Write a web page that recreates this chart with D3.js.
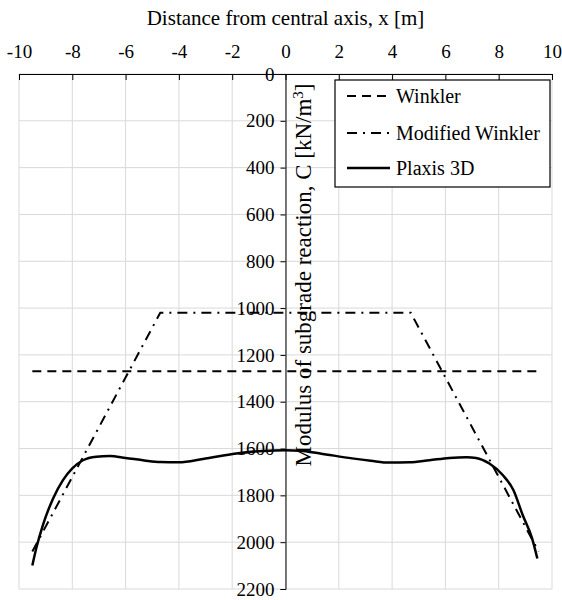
<!DOCTYPE html>
<html>
<head>
<meta charset="utf-8">
<script src="https://cdn.jsdelivr.net/npm/d3@7/dist/d3.min.js"></script>
<style>
  html, body { margin: 0; padding: 0; background: #fff; }
  svg { display: block; }
  svg text { font-family: "Liberation Serif", "Times New Roman", serif !important; fill: #000; }
</style>
</head>
<body>
<svg id="chart" width="562" height="600"></svg>
<script>
// Distance from central axis (m) and tick values
const xTicks = [-10, -8, -6, -4, -2, 0, 2, 4, 6, 8, 10];
const yTicks = [0, 200, 400, 600, 800, 1000, 1200, 1400, 1600, 1800, 2000, 2200];

// Winkler: constant modulus across the width
const winklerX = [-9.5, 9.5];
const winklerC = [1270, 1270];

// Modified Winkler: plateau in the middle, rising toward the edges
const modWinklerX = [-9.5, -4.7, 4.7, 9.5];
const modWinklerC = [2040, 1020, 1020, 2040];

// Plaxis 3D result
const plaxisX = [-9.5, -9.35, -9.1, -8.72, -8.35, -8.0, -7.6, -7.1, -6.6, -6.0, -5.3, -4.7, -4.0, -3.1, -1.85, -0.85, 0, 0.55, 1.3, 2.5, 3.2, 3.9, 4.65, 5.4, 6.15, 6.8, 7.15, 7.65, 8.15, 8.55, 8.9, 9.25, 9.45];
const plaxisC = [2100, 2025, 1926, 1813, 1735, 1685, 1650, 1635, 1632, 1640, 1651, 1658, 1659, 1645, 1621, 1610, 1607, 1609, 1621, 1642, 1652, 1660, 1659, 1650, 1640, 1637, 1640, 1664, 1713, 1777, 1884, 1983, 2070];

const legendLabels = ["Winkler", "Modified Winkler", "Plaxis 3D"];

const svg = d3.select("#chart");
const plotLeft = 19, plotRight = 552, plotTop = 74, plotBottom = 589;

const x = d3.scaleLinear().domain([-10, 10]).range([plotLeft, plotRight]);
const y = d3.scaleLinear().domain([0, 2200]).range([plotTop, plotBottom]);

// Gridlines
const grid = svg.append("g").attr("stroke", "#d9d9d9").attr("stroke-width", 1);
grid.selectAll("line.v").data(xTicks).join("line").attr("class", "v")
  .attr("x1", d => x(d)).attr("x2", d => x(d))
  .attr("y1", plotTop).attr("y2", plotBottom);
grid.selectAll("line.h").data(yTicks).join("line").attr("class", "h")
  .attr("x1", plotLeft).attr("x2", plotRight)
  .attr("y1", d => y(d)).attr("y2", d => y(d));

// Top x axis
const xAxis = svg.append("g")
  .attr("transform", `translate(0,${plotTop})`)
  .call(d3.axisTop(x).tickValues(xTicks).tickSizeInner(-6).tickSizeOuter(0).tickPadding(16)
    .tickFormat(d => d < 0 ? "-" + Math.abs(d) : d));
xAxis.select(".domain").attr("stroke", "#000");
xAxis.selectAll(".tick line").attr("stroke", "#000");
xAxis.selectAll(".tick text").attr("font-size", 19);

// Vertical axis at x = 0
const yAxis = svg.append("g")
  .attr("transform", `translate(${x(0)},0)`)
  .call(d3.axisLeft(y).tickValues(yTicks).tickSize(5).tickPadding(6).tickFormat(d3.format("d")));
yAxis.select(".domain").attr("stroke", "#000");
yAxis.selectAll(".tick line").attr("stroke", "#000");
yAxis.selectAll(".tick text").attr("font-size", 19);

// Series
const line = d3.line().x(d => x(d[0])).y(d => y(d[1]));
const smooth = d3.line().x(d => x(d[0])).y(d => y(d[1])).curve(d3.curveMonotoneX);

svg.append("path")
  .datum(d3.zip(winklerX, winklerC))
  .attr("d", line).attr("fill", "none").attr("stroke", "#000")
  .attr("stroke-width", 2).attr("stroke-dasharray", "9,6");

svg.append("path")
  .datum(d3.zip(modWinklerX, modWinklerC))
  .attr("d", line).attr("fill", "none").attr("stroke", "#000")
  .attr("stroke-width", 2).attr("stroke-dasharray", "10,6,2,6");

svg.append("path")
  .datum(d3.zip(plaxisX, plaxisC))
  .attr("d", smooth).attr("fill", "none").attr("stroke", "#000")
  .attr("stroke-width", 2.5);

// Axis titles
svg.append("text")
  .attr("x", x(0)).attr("y", 25)
  .attr("text-anchor", "middle").attr("font-size", 21)
  .text("Distance from central axis, x [m]");

const yTitle = svg.append("text")
  .attr("transform", `translate(311,275) rotate(-90)`)
  .attr("text-anchor", "middle").attr("font-size", 23);
yTitle.append("tspan").text("Modulus of subgrade  reaction,  C [kN/m");
yTitle.append("tspan").attr("font-size", 15).attr("dy", -8).text("3");
yTitle.append("tspan").attr("dy", 8).text("]");

// Legend
const lg = svg.append("g").attr("transform", "translate(335,80)");
lg.append("rect").attr("width", 215).attr("height", 107)
  .attr("fill", "#fff").attr("stroke", "#000").attr("stroke-width", 1.2);
const dashes = ["9,6", "10,6,2,6", null];
const rows = [16, 53, 88];
legendLabels.forEach((name, i) => {
  lg.append("line").attr("x1", 12).attr("x2", 55).attr("y1", rows[i]).attr("y2", rows[i])
    .attr("stroke", "#000").attr("stroke-width", i === 2 ? 2.5 : 2)
    .attr("stroke-dasharray", dashes[i]);
  lg.append("text").attr("x", 61).attr("y", rows[i] + 7)
    .attr("font-size", 20).text(name);
});
</script>
</body>
</html>
